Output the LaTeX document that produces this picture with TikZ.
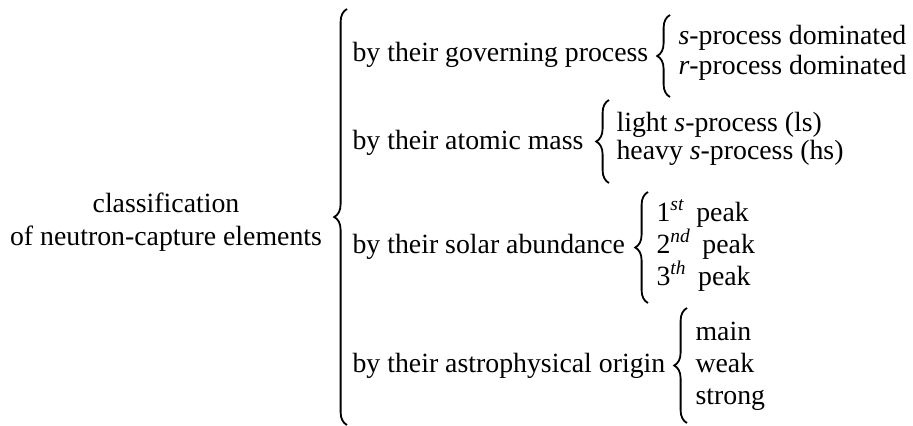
\documentclass[tikz,border=0pt]{standalone}
\usepackage{fontspec}
\setmainfont{Liberation Serif}
\usetikzlibrary{decorations.pathreplacing}
\newcommand{\ordsup}[1]{\textsuperscript{\textit{#1}}\kern1.5pt\relax}

\begin{document}
\begin{tikzpicture}[x=0.3597pt,y=-0.3597pt,
        txt/.style={anchor=base west,inner sep=0pt,font=\fontsize{10}{12}\selectfont},
        ctxt/.style={anchor=base,inner sep=0pt,font=\fontsize{10}{12}\selectfont},
        curly/.style={decorate,decoration={brace,amplitude=4.6pt},line width=0.65pt}]
        % Fix the page
        \useasboundingbox (0,0) rectangle (913,426);
        % Coordinates of the brace ends
        \coordinate (m1) at (347,9);
        \coordinate (m2) at (347,425);
        \coordinate (g1) at (670,15);
        \coordinate (g2) at (670,97);
        \coordinate (a1) at (609,100);
        \coordinate (a2) at (609,183);
        \coordinate (p1) at (648,192);
        \coordinate (p2) at (648,303);
        \coordinate (o1) at (687,308);
        \coordinate (o2) at (687,423);
        % Draw the braces
        \draw[curly] (m2) -- (m1);
        \draw[curly] (g2) -- (g1);
        \draw[curly] (a2) -- (a1);
        \draw[curly] (p2) -- (p1);
        \draw[curly] (o2) -- (o1);
        % Root
        \node[ctxt] (root1) at (166,212) {classification};
        \node[ctxt] (root2) at (166,245) {of neutron-capture elements};
        % Criteria
        \node[txt] (gov) at (352,61) {by their governing process};
        \node[txt] (mass) at (352,149) {by their atomic mass};
        \node[txt] (sol) at (352,253) {by their solar abundance};
        \node[txt] (orig) at (352,372) {by their astrophysical origin};
        % Classes
        \node[txt] (sdom) at (678,44) {\textit{s}-process dominated};
        \node[txt] (rdom) at (678,74) {\textit{r}-process dominated};
        \node[txt] (ls) at (616,131) {light \textit{s}-process (ls)};
        \node[txt] (hs) at (616,159) {heavy \textit{s}-process (hs)};
        \node[txt] (pk1) at (656,221) {1\ordsup{st} peak};
        \node[txt] (pk2) at (656,253) {2\ordsup{nd} peak};
        \node[txt] (pk3) at (656,285) {3\ordsup{th} peak};
        \node[txt] (main) at (695,340) {main};
        \node[txt] (weak) at (695,372) {weak};
        \node[txt] (strong) at (695,404) {strong};
    \end{tikzpicture}
\end{document}
